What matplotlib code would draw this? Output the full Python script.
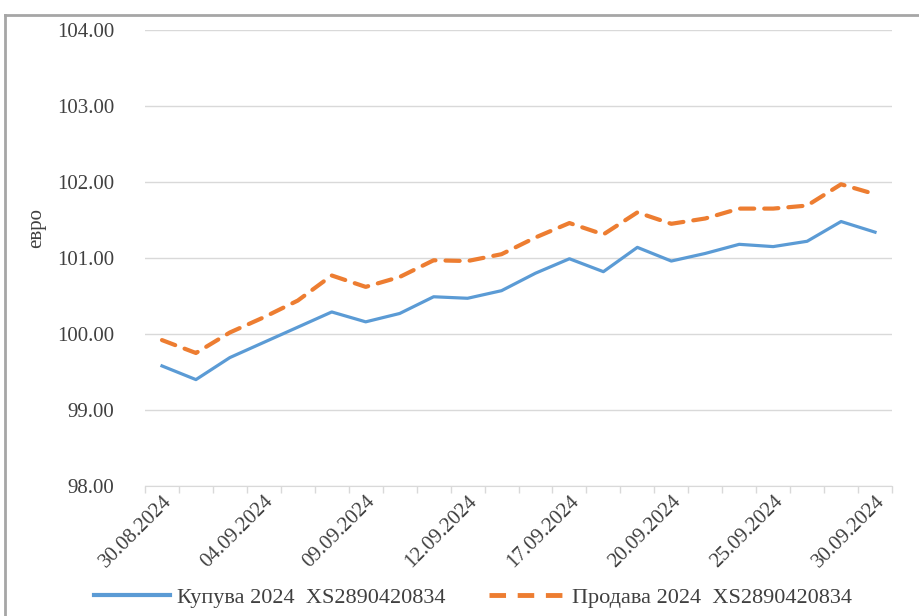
import matplotlib
matplotlib.use('Agg')
import matplotlib.pyplot as plt
from matplotlib.lines import Line2D

# дати (работни денови)
dates = ['30.08.2024', '02.09.2024', '03.09.2024', '04.09.2024', '05.09.2024',
         '06.09.2024', '09.09.2024', '10.09.2024', '11.09.2024', '12.09.2024',
         '13.09.2024', '16.09.2024', '17.09.2024', '18.09.2024', '19.09.2024',
         '20.09.2024', '23.09.2024', '24.09.2024', '25.09.2024', '26.09.2024',
         '27.09.2024', '30.09.2024']

kupuva = [99.58, 99.40, 99.69, 99.89, 100.09, 100.29, 100.16, 100.27, 100.49,
          100.47, 100.57, 100.80, 100.99, 100.82, 101.14, 100.96, 101.06,
          101.18, 101.15, 101.22, 101.48, 101.34]

prodava = [99.92, 99.75, 100.02, 100.22, 100.44, 100.77, 100.62, 100.75,
           100.97, 100.96, 101.05, 101.27, 101.46, 101.31, 101.60, 101.45,
           101.52, 101.65, 101.65, 101.69, 101.97, 101.84]

label_kupuva = 'Купува 2024  XS2890420834'
label_prodava = 'Продава 2024  XS2890420834'
y_ticks = [98, 99, 100, 101, 102, 103, 104]

plt.rcParams['font.family'] = ['Liberation Serif', 'DejaVu Serif']
plt.rcParams['font.size'] = 15

fig = plt.figure(figsize=(9.2, 6.16), dpi=100)
ax = fig.add_axes([145 / 920, 1 - 486 / 616, (892 - 145) / 920, (486 - 30) / 616])

x = list(range(len(dates)))
ax.plot(x, kupuva, color='#5b9bd5', linewidth=2.3, label=label_kupuva,
        solid_joinstyle='round')
ax.plot(x, prodava, color='#ed7d31', linewidth=3.0, linestyle=(0, (3.4, 2.4)),
        label=label_prodava, dash_capstyle='round')

ax.set_xlim(-0.5, len(dates) - 0.5)
ax.set_ylim(98, 104)
ax.set_yticks(y_ticks)
ax.set_yticklabels(['%.2f' % v for v in y_ticks], color='#404040')
ax.grid(axis='y', color='#d9d9d9', linewidth=1)
ax.set_axisbelow(True)

# подписи на x-оската на секој трет ден
ax.set_xticks(x[::3])
ax.set_xticklabels(dates[::3], rotation=45, ha='right', va='top',
                   rotation_mode='anchor', color='#404040')
ax.set_xticks([i - 0.5 for i in range(len(dates) + 1)], minor=True)
ax.tick_params(axis='x', which='major', length=0, pad=4)
ax.tick_params(axis='x', which='minor', length=5, color='#d9d9d9', width=1)
ax.tick_params(axis='y', length=0, pad=22)

for s in ['top', 'right', 'left']:
    ax.spines[s].set_visible(False)
ax.spines['bottom'].set_color('#d9d9d9')

ax.set_ylabel('евро', color='#404040')
ax.yaxis.set_label_coords(-0.132, 0.565)

handles = [Line2D([], [], color='#5b9bd5', linewidth=3),
           Line2D([], [], color='#ed7d31', linewidth=3.5, linestyle=(0, (3.4, 2.4)))]
fig.legend(handles, [label_kupuva, label_prodava], loc='center',
           bbox_to_anchor=(473 / 920, 1 - 598 / 616), ncol=2, frameon=False,
           fontsize=16, handlelength=3.4, handletextpad=0.3, columnspacing=2.0,
           labelcolor='#404040')

# рамка околу графиконот
fig.add_artist(Line2D([5 / 920, 5 / 920], [0, 1 - 15 / 616],
                      transform=fig.transFigure, color='#a6a6a6', linewidth=2))
fig.add_artist(Line2D([5 / 920, 1], [1 - 15 / 616, 1 - 15 / 616],
                      transform=fig.transFigure, color='#a6a6a6', linewidth=2))

fig.savefig('out.png', dpi=100)
